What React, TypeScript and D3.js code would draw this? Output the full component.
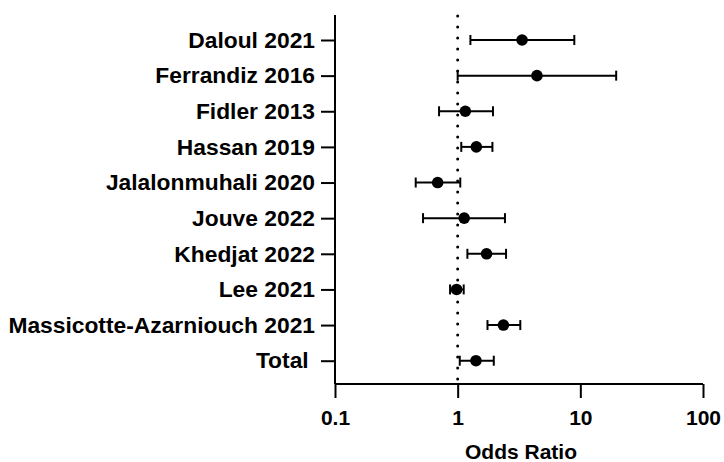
import { useEffect, useRef } from 'react';
import * as d3 from 'd3';

const studies = [
  'Daloul 2021',
  'Ferrandiz 2016',
  'Fidler 2013',
  'Hassan 2019',
  'Jalalonmuhali 2020',
  'Jouve 2022',
  'Khedjat 2022',
  'Lee 2021',
  'Massicotte-Azarniouch 2021',
  'Total ',
];
const oddsRatio = [3.35, 4.43, 1.155, 1.42, 0.687, 1.13, 1.72, 0.98, 2.36, 1.41];
const ciLow = [1.27, 1.0, 0.705, 1.07, 0.455, 0.522, 1.2, 0.867, 1.75, 1.04];
const ciHigh = [8.93, 19.6, 1.94, 1.92, 1.05, 2.43, 2.48, 1.12, 3.24, 1.97];
const xTicks = [0.1, 1, 10, 100];

function ForestPlot() {
  const svgRef = useRef<SVGSVGElement>(null);

  useEffect(() => {
    document.body.style.margin = '0';
    const w = 724;
    const h = 462;
    const left = 335;
    const right = 703;
    const top = 15;
    const bottom = 384;
    const font = 'Liberation Sans, Arial, sans-serif';

    const svg = d3.select(svgRef.current)
      .attr('width', w)
      .attr('height', h)
      .style('display', 'block')
      .style('background', '#fff');
    svg.selectAll('*').remove();

    // scales
    const xScale = d3.scaleLog().domain([0.1, 100]).range([left, right]);
    const yScale = d3.scalePoint().domain(studies).range([40, 360.7]);

    // reference line at OR = 1
    svg.append('line')
      .attr('x1', xScale(1)).attr('x2', xScale(1))
      .attr('y1', top + 1).attr('y2', bottom)
      .attr('stroke', '#000')
      .attr('stroke-width', 3)
      .attr('stroke-linecap', 'round')
      .attr('stroke-dasharray', '0 11');

    // x axis
    const xAxis = svg.append('g')
      .attr('transform', 'translate(0,' + bottom + ')')
      .call(d3.axisBottom(xScale).tickValues(xTicks).tickFormat((d) => String(d)).tickSize(14).tickPadding(12));
    xAxis.select('.domain').attr('stroke-width', 2).attr('d', `M${left},0H${right}`);
    xAxis.selectAll('.tick line').attr('stroke-width', 2);
    xAxis.selectAll('text')
      .attr('font-family', font)
      .attr('font-size', '21px')
      .attr('font-weight', 'bold')
      .attr('fill', '#000');

    // y axis
    const yAxis = svg.append('g')
      .attr('transform', 'translate(' + left + ',0)')
      .call(d3.axisLeft(yScale).tickSize(14).tickPadding(6));
    yAxis.select('.domain').attr('stroke-width', 2).attr('d', `M0,${top}V${bottom}`);
    yAxis.selectAll('.tick line').attr('stroke-width', 2);
    yAxis.selectAll('text')
      .attr('font-family', font)
      .attr('font-size', '22.8px')
      .attr('font-weight', 'bold')
      .attr('fill', '#000')
      .attr('xml:space', 'preserve')
      .style('white-space', 'pre');

    // axis title
    svg.append('text')
      .attr('x', (left + right) / 2 + 2)
      .attr('y', 459)
      .attr('text-anchor', 'middle')
      .attr('font-family', font)
      .attr('font-size', '21px')
      .attr('font-weight', 'bold')
      .text('Odds Ratio');

    // error bars
    const rows = svg.append('g').selectAll('g').data(studies).enter().append('g');
    rows.append('line')
      .attr('x1', (d, i) => xScale(ciLow[i]))
      .attr('x2', (d, i) => xScale(ciHigh[i]))
      .attr('y1', (d) => yScale(d)!)
      .attr('y2', (d) => yScale(d)!)
      .attr('stroke', '#000').attr('stroke-width', 2);
    [ciLow, ciHigh].forEach((arr) => {
      rows.append('line')
        .attr('x1', (d, i) => xScale(arr[i]))
        .attr('x2', (d, i) => xScale(arr[i]))
        .attr('y1', (d) => yScale(d)! - 5)
        .attr('y2', (d) => yScale(d)! + 5)
        .attr('stroke', '#000').attr('stroke-width', 2);
    });
    rows.append('circle')
      .attr('cx', (d, i) => xScale(oddsRatio[i]))
      .attr('cy', (d) => yScale(d)!)
      .attr('r', 5.8)
      .attr('fill', '#000');
  }, []);

  return <svg ref={svgRef}></svg>;
}

export default function App() {
  return <ForestPlot />;
}
